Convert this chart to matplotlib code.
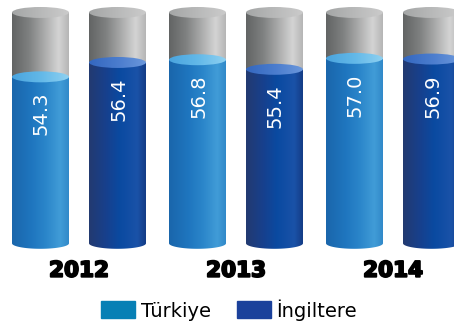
import numpy as np
import matplotlib
matplotlib.use("Agg")
import matplotlib.pyplot as plt
from matplotlib.path import Path
from matplotlib.patches import PathPatch, Ellipse, Patch
from matplotlib.colors import LinearSegmentedColormap
import matplotlib.patheffects as pe

years = ["2012", "2013", "2014"]
series = ["Türkiye", "İngiltere"]
turkiye = [54.3, 56.8, 57.0]
ingiltere = [56.4, 55.4, 56.9]

# layout (not data)
BASE = 30.0      # level of the cylinder bottom
TOP = 63.7       # level of the grey cap
EH = 1.6         # ellipse height in value units
W = 57           # cylinder width
X0 = 40.5        # first cylinder centre
STEP = 77        # distance inside a group
GAP = 157        # distance between groups

cmaps = {
    "tr": LinearSegmentedColormap.from_list("tr", [(0, "#1a66ab"), (0.35, "#1f76bf"), (0.6, "#2b86ca"),
                                                   (0.85, "#419cd7"), (1, "#3189c9")]),
    "en": LinearSegmentedColormap.from_list("en", [(0, "#233a70"), (0.3, "#17408d"), (0.55, "#0a4aa1"),
                                                   (0.85, "#1a52a8"), (1, "#143c86")]),
    "gray": LinearSegmentedColormap.from_list("gray", [(0, "#626464"), (0.3, "#7f8181"), (0.55, "#a7a8a8"),
                                                       (0.82, "#d4d4d4"), (1, "#b5b5b5")]),
    "tr_top": LinearSegmentedColormap.from_list("trt", ["#4aa4de", "#62b8e8", "#8fd1f1"]),
    "en_top": LinearSegmentedColormap.from_list("ent", ["#3467bf", "#4a7ccd", "#6b98dc"]),
    "gray_top": LinearSegmentedColormap.from_list("gt", ["#a4a6a6", "#b8b9b9", "#cbcbcb"]),
}
grad = np.linspace(0, 1, 256).reshape(1, -1)

fig = plt.figure(figsize=(4.54, 3.21), dpi=100)
ax = fig.add_axes([0, 0, 1, 1])
ax.set_xlim(0, 454)
ax.set_ylim(18.66, 65.52)
ax.axis("off")


def body_path(xc, y0, y1, bottom_round):
    x0, x1 = xc - W / 2, xc + W / 2
    verts = [(x0, y1), (x0, y0)]
    if bottom_round:
        t = np.linspace(np.pi, 2 * np.pi, 40)
        verts += list(zip(xc + W / 2 * np.cos(t), y0 + EH / 2 * np.sin(t)))
    verts += [(x1, y0), (x1, y1), (x0, y1)]
    codes = [Path.MOVETO] + [Path.LINETO] * (len(verts) - 2) + [Path.CLOSEPOLY]
    return Path(verts, codes)


def fill_shape(patch, cmap, y0, y1, xc):
    ax.add_patch(patch)
    patch.set_visible(False)
    im = ax.imshow(grad, extent=[xc - W / 2, xc + W / 2, y0, y1], aspect="auto",
                   cmap=cmap, interpolation="bilinear", zorder=2)
    im.set_clip_path(patch)


def cylinder(xc, val, kind):
    # grey part up to the top
    p = PathPatch(body_path(xc, val, TOP, False))
    fill_shape(p, cmaps["gray"], val, TOP, xc)
    e = Ellipse((xc, TOP), W, EH)
    fill_shape(e, cmaps["gray_top"], TOP - EH, TOP + EH, xc)
    # coloured part
    p = PathPatch(body_path(xc, BASE, val, True))
    fill_shape(p, cmaps[kind], BASE - EH, val, xc)
    e = Ellipse((xc, val), W, EH)
    fill_shape(e, cmaps[kind + "_top"], val - EH, val + EH, xc)
    ax.text(xc + 1, val - 2.2, f"{val:.1f}", rotation=90, ha="center", va="top",
            color="white", fontsize=14, zorder=5)


for g, year in enumerate(years):
    xa = X0 + g * GAP
    cylinder(xa, turkiye[g], "tr")
    cylinder(xa + STEP, ingiltere[g], "en")
    ax.text(xa + STEP / 2, 26.0, year, ha="center", va="center", fontsize=15.5,
            fontweight="bold", color="black",
            path_effects=[pe.withStroke(linewidth=1.4, foreground="black")])

handles = [Patch(color="#0780b5", label=series[0]), Patch(color="#1b419b", label=series[1])]
ax.legend(handles=handles, loc="center", bbox_to_anchor=(0.505, 0.035), ncol=2, frameon=False,
          fontsize=14, handlelength=1.75, handleheight=0.95, handletextpad=0.3, columnspacing=1.3,
          borderpad=0, borderaxespad=0)

fig.savefig("out.png", dpi=100)
